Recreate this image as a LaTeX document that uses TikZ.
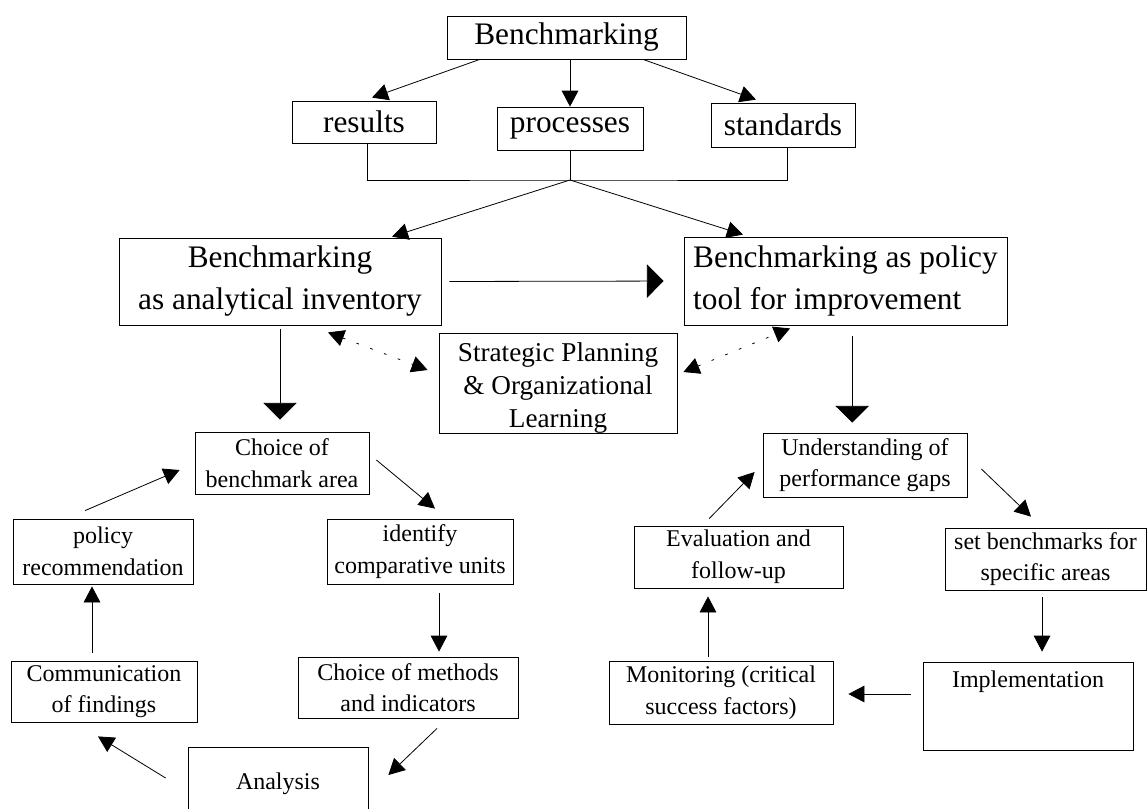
\documentclass[tikz,border=0pt]{standalone}
\usepackage{fontspec}
\setmainfont{Liberation Serif}
\usetikzlibrary{arrows.meta}

\begin{document}
\begin{tikzpicture}[x=0.75pt, y=-0.75pt,
    box/.style={draw, line width=0.6pt, inner sep=0pt, align=center},
    big/.style={font=\fontsize{23.5}{31.5}\selectfont},
    small/.style={font=\fontsize{18}{23.7}\selectfont},
    link/.style={line width=0.6pt, -{Triangle[length=12pt,width=12.5pt]}},
    bold link/.style={line width=0.6pt, -{Triangle[length=12.5pt,width=25pt]}},
    dotlink/.style={line width=0.6pt, dash pattern=on 2pt off 9pt,
      {Triangle[length=12pt,width=12.5pt]}-{Triangle[length=12pt,width=12.5pt]}}]
\clip (0,0) rectangle (1148,808);

\node[box, big, minimum width=179.25pt, minimum height=32.25pt] (bench) at (566.5,37.5) {Benchmarking};
\node[box, big, minimum width=108pt, minimum height=31.5pt] (results) at (364,122) {results};
\node[box, big, minimum width=109.5pt, minimum height=32.25pt] (processes) at (570,128.5) {processes};
\node[box, big, minimum width=108pt, minimum height=33pt] (standards) at (783,125) {standards};
\coordinate (hub) at (570,180);

\node[box, big, minimum width=241.5pt, minimum height=65.25pt] (inventory) at (280,281.5) {Benchmarking\\as analytical inventory};
\node[box, big, align=left, minimum width=242.25pt, minimum height=66pt] (policytool) at (845.5,281) {Benchmarking as policy\\tool for improvement};
\node[box, minimum width=178.5pt, minimum height=75pt, font=\fontsize{20.4}{25}\selectfont] (strategic) at (558,383)
  {\parbox[c][61pt][t]{175pt}{\centering Strategic Planning\\ \& Organizational\\ Learning}};

\node[box, small, minimum width=130.5pt, minimum height=46.5pt] (area) at (282,463) {Choice of\\benchmark area};
\node[box, small, minimum width=139.5pt, minimum height=48.75pt] (units) at (420,551.5) {identify\\comparative units};
\node[box, small, minimum width=165pt, minimum height=45.75pt] (methods) at (408,687.5) {Choice of methods\\and indicators};
\node[box, small, minimum width=135pt, minimum height=55.5pt] (analysis) at (278,784) {Analysis};
\node[box, small, minimum width=139.5pt, minimum height=45.75pt] (findings) at (104,691.5) {Communication\\of findings};
\node[box, small, minimum width=135pt, minimum height=48.75pt] (recommend) at (103,551.5) {policy\\recommendation};

\node[box, small, minimum width=153pt, minimum height=48pt] (gaps) at (865,465) {Understanding of\\performance gaps};
\node[box, small, minimum width=150.75pt, minimum height=46.5pt] (setbench) at (1045.5,559) {set benchmarks for\\specific areas};
\node[box, small, minimum width=157.5pt, minimum height=66pt] (implement) at (1028,706)
  {\parbox[c][53pt][t]{150pt}{\centering Implementation}};
\node[box, small, minimum width=168pt, minimum height=47.25pt] (monitor) at (721,692.5) {Monitoring (critical\\success factors)};
\node[box, small, minimum width=156.75pt, minimum height=46.5pt] (evaluation) at (738.5,557) {Evaluation and\\follow-up};

\draw[link] ([xshift=-65pt]bench.south) -- ([xshift=6pt,yshift=2.25pt]results.north);
\draw[link] (processes.north |- bench.south) -- (processes.north);
\draw[link] ([xshift=57.4pt]bench.south) -- ([xshift=-20.25pt,yshift=2.25pt]standards.north);
\draw[line width=0.6pt] ([xshift=2.25pt]results.south) |- (hub) -| ([xshift=3pt]standards.south);
\draw[line width=0.6pt] (processes.south) -- (hub);
\draw[link] (hub) -- ([xshift=84pt,yshift=0.75pt]inventory.north);
\draw[link] (hub) -- ([xshift=-76.9pt,yshift=1.5pt]policytool.north);

\draw[bold link, shorten <=6pt, shorten >=15pt] (inventory.east) -- (policytool.west);
\draw[bold link, shorten <=3pt, shorten >=9pt] (inventory.south) -- (inventory.south |- area.north);
\draw[bold link, shorten <=8pt, shorten >=7.5pt] ([xshift=5pt]policytool.south) -- ([xshift=5pt]policytool.south |- gaps.north);
\draw[dotlink] ([xshift=36pt,yshift=-5.25pt]inventory.south) -- ([xshift=-8.25pt,yshift=9.75pt]strategic.west);
\draw[dotlink] ([xshift=4.5pt,yshift=8.25pt]strategic.east) -- ([xshift=-41.6pt,yshift=-2.25pt]policytool.south);

\draw[link] ([xshift=5.25pt,yshift=2.25pt]area.east) -- ([xshift=11.25pt,yshift=7.5pt]units.north);
\draw[link, shorten <=6.75pt, shorten >=3.75pt] ([xshift=14.25pt]units.south) -- ([xshift=14.25pt]units.south |- methods.north);
\draw[link] ([xshift=21.75pt,yshift=-7.5pt]methods.south) -- ([xshift=15pt,yshift=6.75pt]analysis.east);
\draw[link] ([xshift=-16.5pt,yshift=4.5pt]analysis.west) -- ([xshift=-4.5pt,yshift=-10.5pt]findings.south);
\draw[link, shorten <=6pt, shorten >=1.5pt] ([xshift=-9pt]findings.north) -- ([xshift=-9pt]findings.north |- recommend.south);
\draw[link] ([xshift=-13.5pt,yshift=6pt]recommend.north) -- ([xshift=-11.25pt,yshift=-5.25pt]area.west);

\draw[link] ([xshift=10.5pt,yshift=-3pt]gaps.east) -- ([xshift=-10.9pt,yshift=8.25pt]setbench.north);
\draw[link, shorten <=5.25pt, shorten >=7.5pt] ([xshift=-2.6pt]setbench.south) -- ([xshift=-2.6pt]setbench.south |- implement.north);
\draw[link, shorten <=9pt, shorten >=11.25pt] ([yshift=9pt]implement.west) -- ([yshift=9pt]implement.west -| monitor.east);
\draw[link, shorten <=3pt, shorten >=6pt] ([xshift=-9.75pt]monitor.north) -- ([xshift=-9.75pt]monitor.north |- evaluation.south);
\draw[link] ([xshift=-22pt,yshift=5.25pt]evaluation.north) -- ([xshift=-6pt,yshift=-5.25pt]gaps.west);
\end{tikzpicture}
\end{document}
